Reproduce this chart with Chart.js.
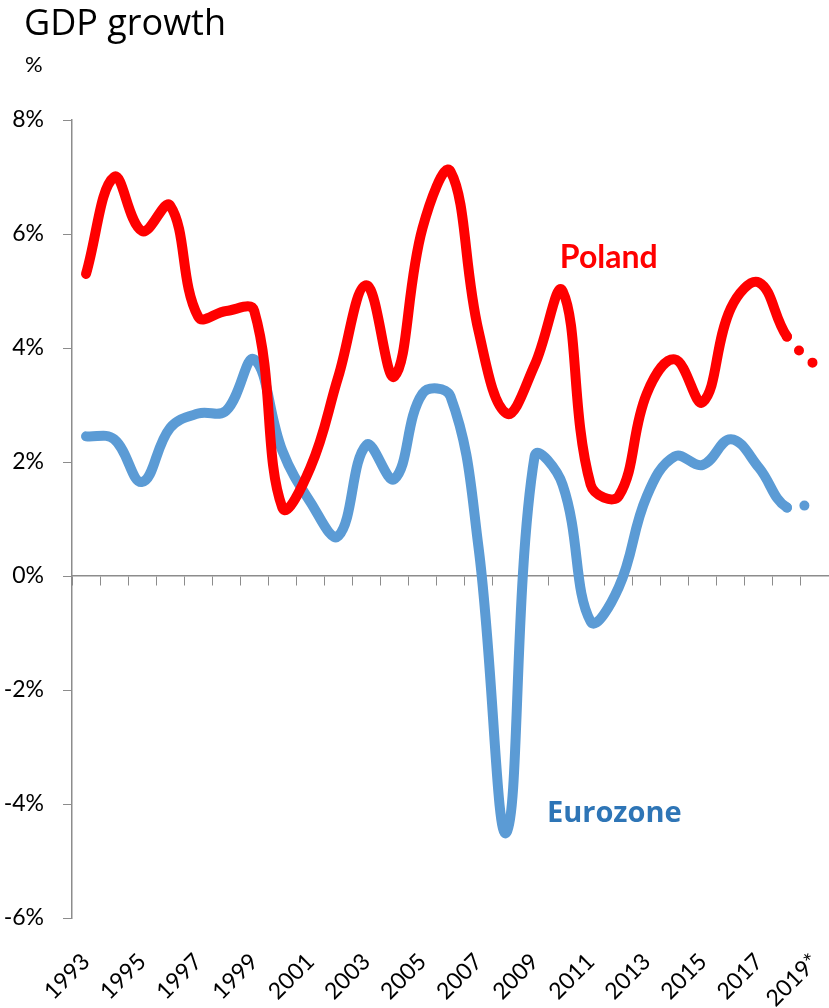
<!DOCTYPE html>
<html>
<head>
<meta charset="utf-8">
<script src="https://cdn.jsdelivr.net/npm/chart.js@4.4.1/dist/chart.umd.min.js"></script>
<style>
    html, body { margin: 0; padding: 0; background: #ffffff; }
    #wrap { position: relative; width: 829px; height: 1008px; }
    #title { position: absolute; left: 24px; top: 2px; font-family: 'Open Sans', sans-serif; font-size: 36px; line-height: 40px; color: #000; }
    #unit { position: absolute; left: 25px; top: 52px; font-family: Lato, sans-serif; font-size: 22px; line-height: 24px; color: #000; }
    canvas { position: absolute; left: 0; top: 0; }
</style>
</head>
<body>
<div id="wrap">
    <canvas id="gdpChart" width="829" height="1008"></canvas>
    <div id="title">GDP growth</div>
    <div id="unit">%</div>
</div>
<script>
// Chart data
const years = ['1993', '1994', '1995', '1996', '1997', '1998', '1999', '2000', '2001', '2002',
    '2003', '2004', '2005', '2006', '2007', '2008', '2009', '2010', '2011', '2012',
    '2013', '2014', '2015', '2016', '2017', '2018', '2019*'];
const polandGrowth = [5.3, 7.0, 6.05, 6.5, 4.55, 4.65, 4.65, 1.2, 1.9, 3.5,
    5.1, 3.5, 6.1, 7.1, 4.3, 2.85, 3.7, 5.0, 1.6, 1.4,
    3.2, 3.8, 3.05, 4.7, 5.15, 4.2, 3.7];
const eurozoneGrowth = [2.45, 2.4, 1.65, 2.6, 2.85, 2.9, 3.8, 2.2, 1.3, 0.7,
    2.3, 1.7, 3.2, 3.15, 0.5, -4.5, 2.1, 1.6, -0.8, -0.2,
    1.4, 2.1, 1.95, 2.4, 1.9, 1.2, 1.3];
const yTicks = [-6, -4, -2, 0, 2, 4, 6, 8];

const RED = '#ff0000';
const BLUE = '#5b9bd5';
const AXIS_GREY = '#8c8c8c';
const lastIndex = years.length - 1;

// the forecast year is drawn as round dots
const forecastDash = ctx => ctx.p1DataIndex === lastIndex ? [0, 18.4] : undefined;

// keep the plot running to the right edge like the original
const noSidePadding = scale => {
    scale.paddingLeft = 0;
    scale.paddingRight = 0;
};

// series names written next to the lines
const seriesLabels = {
    id: 'seriesLabels',
    afterDatasetsDraw(chart) {
        const { ctx, scales: { x, y } } = chart;
        const items = [
            { text: 'Poland', color: RED, font: 'bold 32px Lato', at: 16.9, value: 5.4 },
            { text: 'Eurozone', color: '#2e75b6', font: 'bold 29px "Open Sans"', at: 16.44, value: -4.32 }
        ];
        ctx.save();
        ctx.textAlign = 'left';
        ctx.textBaseline = 'alphabetic';
        items.forEach(item => {
            ctx.font = item.font;
            ctx.fillStyle = item.color;
            ctx.fillText(item.text, x.getPixelForValue(item.at), y.getPixelForValue(item.value));
        });
        ctx.restore();
    }
};

const lineStyle = {
    borderWidth: 10,
    pointRadius: 0,
    pointHoverRadius: 0,
    tension: 0.4,
    borderCapStyle: 'round',
    borderJoinStyle: 'round',
    fill: false,
    segment: { borderDash: forecastDash }
};

new Chart(document.getElementById('gdpChart'), {
    type: 'line',
    data: {
        labels: years,
        datasets: [
            { label: 'Poland', data: polandGrowth, borderColor: RED, ...lineStyle },
            { label: 'Eurozone', data: eurozoneGrowth, borderColor: BLUE, ...lineStyle }
        ]
    },
    options: {
        responsive: false,
        animation: false,
        layout: { padding: { top: 120, right: 0, left: 0, bottom: 0 } },
        plugins: {
            legend: { display: false },
            tooltip: { enabled: false }
        },
        scales: {
            x: {
                type: 'category',
                offset: true,
                grid: { display: false, drawTicks: false },
                border: { display: false },
                ticks: {
                    autoSkip: false,
                    maxRotation: 45,
                    minRotation: 45,
                    padding: 30,
                    color: '#000',
                    font: { family: 'Lato', size: 23 },
                    callback: function(value, index) {
                        return index % 2 === 0 ? years[index] : '';
                    }
                },
                afterFit: scale => {
                    scale.height = 90;
                    noSidePadding(scale);
                }
            },
            x2: {
                type: 'category',
                position: { y: 0 },
                offset: true,
                grid: {
                    offset: true,
                    drawOnChartArea: false,
                    tickLength: 9,
                    color: AXIS_GREY,
                    lineWidth: 1
                },
                border: { color: AXIS_GREY, width: 1.5 },
                ticks: { display: false },
                afterFit: noSidePadding
            },
            y: {
                min: -6,
                max: 8,
                afterBuildTicks: scale => { scale.ticks = yTicks.map(v => ({ value: v })); },
                grid: {
                    drawOnChartArea: false,
                    tickLength: 9,
                    color: AXIS_GREY
                },
                border: { color: AXIS_GREY, width: 1.5 },
                ticks: {
                    padding: 19,
                    color: '#000',
                    font: { family: 'Lato', size: 23 },
                    callback: v => v + '%'
                },
                afterFit: scale => { scale.width = 72; }
            }
        }
    },
    plugins: [seriesLabels]
});
</script>
</body>
</html>
